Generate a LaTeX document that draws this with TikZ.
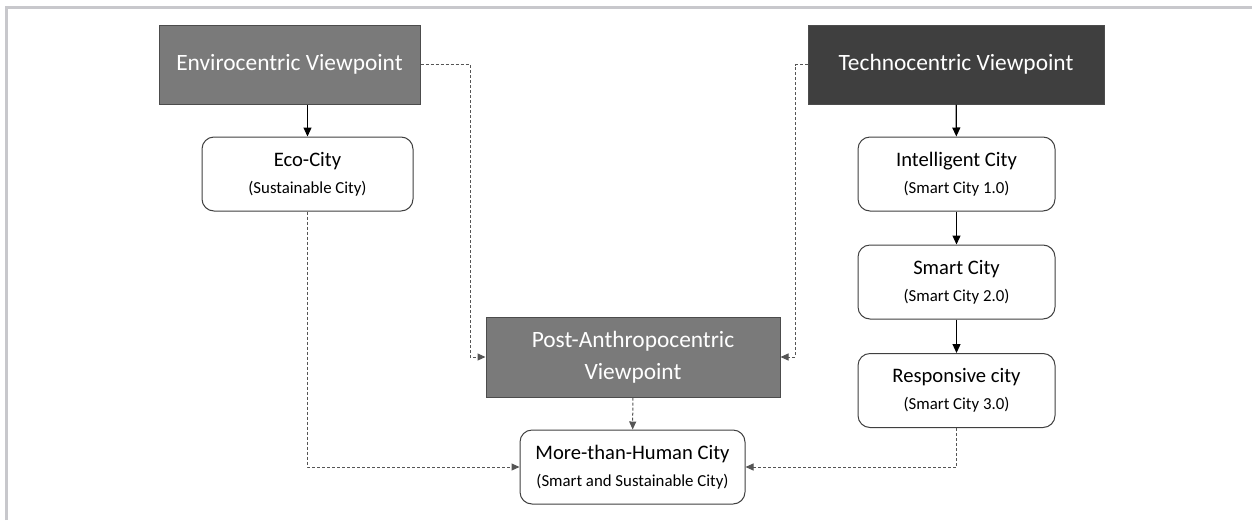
\documentclass[tikz,border=0pt]{standalone}
\usepackage{fontspec}
\setmainfont{Carlito}
\usetikzlibrary{arrows.meta}

\definecolor{midgray}{HTML}{7A7A7A}
\definecolor{darkgray}{HTML}{3F3F3F}
\definecolor{framegray}{HTML}{C8C8CC}
\definecolor{dashgray}{HTML}{555555}

\tikzset{
    viewbox/.style={draw=black!70, line width=0.5pt, text=white, inner sep=0pt, align=center,
        font=\fontsize{11.7}{16}\selectfont},
    citybox/.style={draw=black!75, line width=0.5pt, rounded corners=6pt, fill=white,
        inner sep=0pt, align=center, minimum height=37pt},
    solidarrow/.style={-{Triangle[length=4.5pt,width=4pt]}, line width=0.6pt},
    dasharrow/.style={-{Triangle[length=4pt,width=3.5pt]}, dashgray, line width=0.5pt,
        dash pattern=on 1.5pt off 1pt}
}
\newcommand{\citytext}[2]{{\fontsize{10.3}{12}\selectfont #1}\\[1.5pt]{\fontsize{8.4}{10}\selectfont #2}}

\begin{document}
\begin{tikzpicture}[x=0.5pt,y=-0.5pt]
    \useasboundingbox (0,0) rectangle (1252,520);
    \coordinate (F0) at (6,520);
    \coordinate (F1) at (6,7);
    \coordinate (F2) at (1252,7);
    \draw[framegray, line width=1.5pt] (F0) -- (F1) -- (F2);

    \coordinate (E) at (289.5,64.5);
    \coordinate (T) at (956,64.5);
    \coordinate (P) at (633,357);
    \coordinate (C1) at (307.5,174);
    \coordinate (C2) at (956.5,174);
    \coordinate (C3) at (956.5,282);
    \coordinate (C4) at (956.5,390.5);
    \coordinate (H) at (632.5,467);

    \coordinate (EP) at (470,64.5);
    \coordinate (TP) at (795,64.5);
    \coordinate (CH1) at (307.5,467);
    \coordinate (CH4) at (956.5,467);

%viewpoints
    \node[viewbox, fill=midgray, minimum width=130.5pt, minimum height=39.5pt] (enviro) at (E) {Envirocentric Viewpoint};
    \node[viewbox, fill=darkgray, minimum width=148pt, minimum height=39.5pt] (techno) at (T) {Technocentric Viewpoint};
    \node[viewbox, fill=midgray, minimum width=147pt, minimum height=40pt] (post) at (P) {Post-Anthropocentric\\Viewpoint};

%cities
    \node[citybox, minimum width=105.5pt] (eco) at (C1) {\citytext{Eco-City}{(Sustainable City)}};
    \node[citybox, minimum width=98.5pt] (intel) at (C2) {\citytext{Intelligent City}{(Smart City 1.0)}};
    \node[citybox, minimum width=98.5pt] (smart) at (C3) {\citytext{Smart City}{(Smart City 2.0)}};
    \node[citybox, minimum width=98.5pt] (resp) at (C4) {\citytext{Responsive city}{(Smart City 3.0)}};
    \node[citybox, minimum width=112.5pt] (human) at (H) {\citytext{More-than-Human City}{(Smart and Sustainable City)}};

%arrows
    \draw[solidarrow] (eco.north |- enviro.south) -- (eco);
    \draw[solidarrow] (techno) -- (intel);
    \draw[solidarrow] (intel) -- (smart);
    \draw[solidarrow] (smart) -- (resp);

    \draw[dasharrow] (enviro.east) -- (EP) |- (post.west);
    \draw[dasharrow] (techno.west) -- (TP) |- (post.east);
    \draw[dasharrow] (post) -- (human);
    \draw[dasharrow] (eco) -- (CH1) -- (human.west);
    \draw[dasharrow] (resp) -- (CH4) -- (human.east);

\end{tikzpicture}
\end{document}
